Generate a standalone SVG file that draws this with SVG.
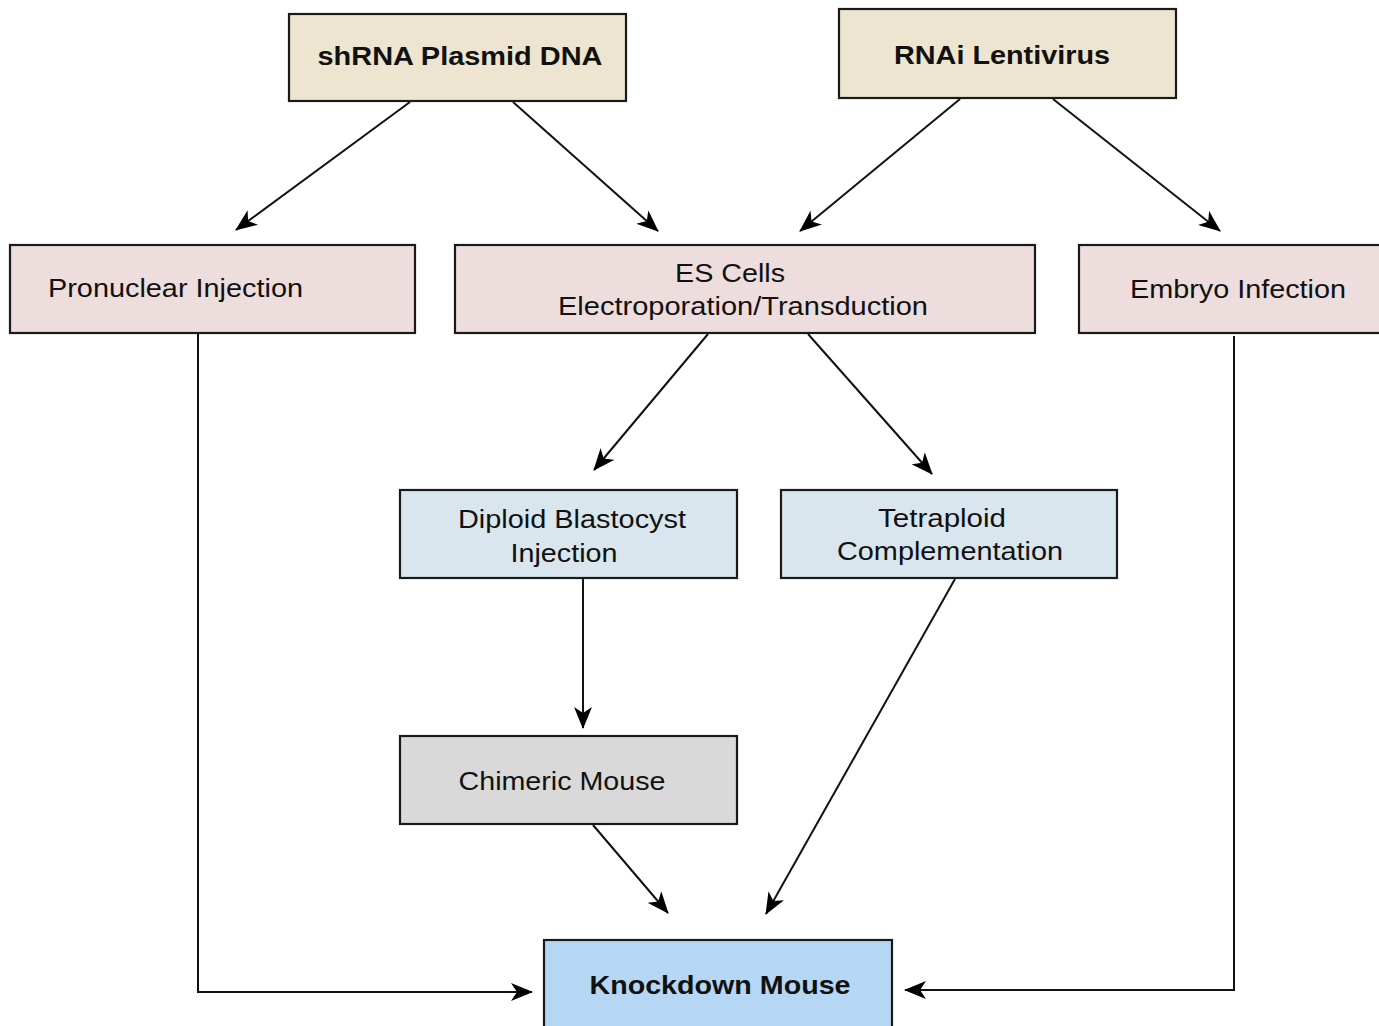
<svg xmlns="http://www.w3.org/2000/svg" width="1379" height="1026" viewBox="0 0 1379 1026">
<defs>
<style>
.box{stroke:#1a1a1a;stroke-width:2.2}
.beige{fill:#ede5d0}
.pink{fill:#eddddd}
.blue{fill:#d9e6ee}
.gray{fill:#d9d9d9}
.kd{fill:#b5d7f3}
text{font-family:"Liberation Sans",Arial,sans-serif;font-size:26px;fill:#111}
.b{font-weight:bold}
.c{stroke:#111;stroke-width:2;fill:none}
.a{marker-end:url(#arr)}
</style>
<marker id="arr" viewBox="0 0 22 18" refX="21" refY="9" markerWidth="22" markerHeight="18" markerUnits="userSpaceOnUse" orient="auto">
<path d="M22,9 L0,0 L6,9 L0,18 Z" fill="#000"/>
</marker>
</defs>
<rect width="1379" height="1026" fill="#fff"/>
<g id="connectors">
<line class="c a" x1="410" y1="102" x2="236" y2="230"/>
<line class="c a" x1="513" y1="102" x2="658" y2="231"/>
<line class="c a" x1="960" y1="99" x2="800" y2="231"/>
<line class="c a" x1="1053" y1="99" x2="1220" y2="231"/>
<line class="c a" x1="708" y1="334" x2="594" y2="470"/>
<line class="c a" x1="808" y1="334" x2="932" y2="474"/>
<line class="c a" x1="583" y1="579" x2="583" y2="728"/>
<line class="c a" x1="593" y1="825" x2="668" y2="913"/>
<line class="c a" x1="955" y1="579" x2="766" y2="914"/>
<polyline class="c a" points="198,334 198,992 532,992"/>
<polyline class="c a" points="1234,336 1234,990 905,990"/>
</g>
<g id="shrna">
<rect class="box beige" x="289" y="14" width="337" height="87"/>
<text class="b" x="460" y="65" text-anchor="middle" textLength="285" lengthAdjust="spacingAndGlyphs">shRNA Plasmid DNA</text>
</g>
<g id="rnai">
<rect class="box beige" x="839" y="9" width="337" height="89"/>
<text class="b" x="1002" y="64" text-anchor="middle" textLength="216" lengthAdjust="spacingAndGlyphs">RNAi Lentivirus</text>
</g>
<g id="pronuclear">
<rect class="box pink" x="10" y="245" width="405" height="88"/>
<text x="48" y="297" textLength="255" lengthAdjust="spacingAndGlyphs">Pronuclear Injection</text>
</g>
<g id="escells">
<rect class="box pink" x="455" y="245" width="580" height="88"/>
<text x="730" y="282" text-anchor="middle" textLength="110" lengthAdjust="spacingAndGlyphs">ES Cells</text>
<text x="743" y="315" text-anchor="middle" textLength="370" lengthAdjust="spacingAndGlyphs">Electroporation/Transduction</text>
</g>
<g id="embryo">
<rect class="box pink" x="1079" y="245" width="310" height="88"/>
<text x="1130" y="298" textLength="216" lengthAdjust="spacingAndGlyphs">Embryo Infection</text>
</g>
<g id="diploid">
<rect class="box blue" x="400" y="490" width="337" height="88"/>
<text x="572" y="528" text-anchor="middle" textLength="228" lengthAdjust="spacingAndGlyphs">Diploid Blastocyst</text>
<text x="564" y="562" text-anchor="middle" textLength="107" lengthAdjust="spacingAndGlyphs">Injection</text>
</g>
<g id="tetraploid">
<rect class="box blue" x="781" y="490" width="336" height="88"/>
<text x="942" y="527" text-anchor="middle" textLength="128" lengthAdjust="spacingAndGlyphs">Tetraploid</text>
<text x="950" y="560" text-anchor="middle" textLength="226" lengthAdjust="spacingAndGlyphs">Complementation</text>
</g>
<g id="chimeric">
<rect class="box gray" x="400" y="736" width="337" height="88"/>
<text x="562" y="790" text-anchor="middle" textLength="207" lengthAdjust="spacingAndGlyphs">Chimeric Mouse</text>
</g>
<g id="knockdown">
<rect class="box kd" x="544" y="940" width="348" height="100"/>
<text class="b" x="720" y="994" text-anchor="middle" textLength="261" lengthAdjust="spacingAndGlyphs">Knockdown Mouse</text>
</g>
</svg>
